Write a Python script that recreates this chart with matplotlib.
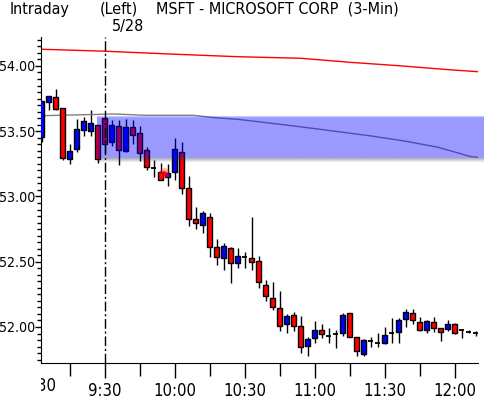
import matplotlib
matplotlib.use('Agg')
import matplotlib.pyplot as plt
import numpy as np
from matplotlib.transforms import Bbox, TransformedBbox, blended_transform_factory
from matplotlib import font_manager
from matplotlib.font_manager import FontProperties

# bar index: 0 = 9:30 on 5/28, 3-minute bars (negatives = previous day)
bar_idx = list(range(-9, 54))
opens = [53.456, 53.722, 53.76, 53.676, 53.287, 53.364, 53.510, 53.50, 53.548,
         53.60, 53.42, 53.543, 53.35, 53.53, 53.484, 53.356, 53.216, 53.19, 53.152,
         53.19, 53.343, 53.063, 52.825, 52.779, 52.841, 52.611, 52.526, 52.605, 52.488,
         52.54, 52.527, 52.506, 52.32, 52.22, 52.143, 52.021, 52.092, 52.008, 51.854,
         51.913, 51.977, 51.933, 51.946, 51.952, 52.105, 51.921, 51.793, 51.895, 51.88,
         51.88, 51.952, 51.964, 52.059, 52.105, 52.036, 51.977, 52.041, 51.99, 51.982,
         52.023, 51.977, 51.964, 51.952]
highs = [53.732, 53.770, 53.82, 53.68, 53.40, 53.59, 53.609, 53.665, 53.55,
         53.605, 53.585, 53.585, 53.59, 53.586, 53.54, 53.38, 53.28, 53.26, 53.25,
         53.45, 53.415, 53.16, 52.92, 52.885, 52.876, 52.674, 52.646, 52.61, 52.603,
         52.577, 52.84, 52.544, 52.36, 52.347, 52.276, 52.097, 52.117, 52.084, 51.921,
         52.048, 52.023, 51.99, 51.977, 52.11, 52.11, 51.925, 51.905, 51.926, 51.957,
         52.002, 52.067, 52.067, 52.136, 52.136, 52.079, 52.05, 52.079, 51.99, 52.05,
         52.028, 51.982, 51.977, 51.972]
lows = [53.42, 53.663, 53.663, 53.28, 53.25, 53.343, 53.464, 53.46, 53.26,
        53.33, 53.387, 53.245, 53.343, 53.40, 53.27, 53.205, 53.15, 53.125, 53.08,
        53.125, 53.02, 52.77, 52.75, 52.72, 52.54, 52.475, 52.437, 52.335, 52.45,
        52.45, 52.435, 52.30, 52.20, 52.13, 51.972, 51.952, 51.972, 51.80, 51.778,
        51.88, 51.918, 51.875, 51.837, 51.93, 51.92, 51.778, 51.778, 51.849, 51.844,
        51.87, 51.875, 51.875, 52.0, 52.02, 51.969, 51.952, 51.96, 51.895, 51.97,
        51.944, 51.913, 51.952, 51.931]
closes = [53.732, 53.770, 53.67, 53.293, 53.345, 53.515, 53.582, 53.565, 53.29,
          53.40, 53.545, 53.356, 53.535, 53.471, 53.33, 53.224, 53.216, 53.13, 53.182,
          53.36, 53.067, 52.825, 52.795, 52.871, 52.615, 52.534, 52.621, 52.494, 52.544,
          52.54, 52.495, 52.347, 52.24, 52.151, 52.01, 52.084, 52.01, 51.844, 51.905,
          51.977, 51.944, 51.933, 51.946, 52.092, 51.926, 51.816, 51.90, 51.895, 51.88,
          51.939, 51.952, 52.054, 52.113, 52.054, 51.977, 52.048, 51.99, 51.96, 52.023,
          51.955, 51.977, 51.964, 51.952]

# long average (red) and short average (grey)
red_idx = [-9, 0, 10, 19, 28, 35, 42, 49, 53.3]
red_vals = [54.128, 54.113, 54.090, 54.071, 54.059, 54.028, 54.002, 53.972, 53.956]
grey_idx = [-9.1, 1.4, 5.7, 12.6, 15.7, 19, 23.8, 28.5, 33.3, 38, 42.8, 47.6, 52.3, 53.3]
grey_vals = [53.619, 53.632, 53.622, 53.622, 53.604, 53.591, 53.561, 53.530, 53.497,
             53.464, 53.425, 53.377, 53.305, 53.300]

# shaded range band
band_start = -1.1
band_top = 53.609
band_bottom = 53.295

tick_pos = [0, 10, 20, 30, 40, 50]
tick_labels = ['9:30', '10:00', '10:30', '11:00', '11:30', '12:00']

# look for a narrow font; otherwise a smaller regular one
narrow = None
for f in font_manager.fontManager.ttflist:
    if f.style != 'normal' or f.weight not in (400, 'normal', 'regular'):
        continue
    if ('Narrow' in f.name or 'Condensed' in f.name or
            f.stretch in ('condensed', 'semi-condensed', 'extra-condensed')):
        if 'Mono' in f.name or 'Serif' in f.name:
            continue
        narrow = f
        break
if narrow is not None:
    fp_x = FontProperties(fname=narrow.fname, size=12)
    fp_y = FontProperties(fname=narrow.fname, size=10.2)
    fp_t = FontProperties(fname=narrow.fname, size=11.5)
else:
    fp_x = FontProperties(family='Liberation Sans', size=10.5)
    fp_y = FontProperties(family='Liberation Sans', size=9)
    fp_t = FontProperties(family='Liberation Sans', size=10)

W, H = 484, 399
fig = plt.figure(figsize=(W / 100, H / 100), dpi=100)
ax = fig.add_axes([41 / W, (H - 363) / H, (478 - 41) / W, (363 - 37) / H])

xmin, xmax = -9.14, 53.3
ymin, ymax = 51.724, 54.222

# candles
x = np.array(bar_idx)
o = np.array(opens); c = np.array(closes)
h = np.array(highs); l = np.array(lows)
ax.vlines(x, l, h, color='black', lw=1, zorder=2)
doji = np.isclose(o, c)
up = (c > o) & ~doji
dn = (c < o) & ~doji
bw = 0.72
ax.bar(x[up], (c - o)[up], bottom=o[up], width=bw, color='#0000ff',
       edgecolor='black', lw=1, zorder=3)
ax.bar(x[dn], (o - c)[dn], bottom=c[dn], width=bw, color='#ff0000',
       edgecolor='black', lw=1, zorder=3)
ax.hlines(o[doji], x[doji] - bw / 2, x[doji] + bw / 2, color='black', lw=1.3, zorder=3)

# small red marker glint
ax.scatter([8.4], [53.178], s=60, color='#ff2020', alpha=0.35, lw=0, zorder=4)
ax.scatter([8.4], [53.178], s=14, color='#ff0000', alpha=0.8, lw=0, zorder=4)

ax.plot(red_idx, red_vals, color='#ff0000', lw=1, zorder=2)
ax.plot(grey_idx, grey_vals, color='#808080', lw=1, zorder=2)

# band with soft edges and shadow, drawn over the candles
n = 60
shadow = 0.04
img = np.zeros((n, 1, 4))
yy = np.linspace(band_top, band_bottom - shadow, n)
for i, v in enumerate(yy):
    if v > band_top - 0.02:
        a = 0.4 * (band_top - v) / 0.02 + 0.2
        img[i, 0] = [0, 0, 1, min(a, 0.4)]
    elif v >= band_bottom:
        img[i, 0] = [0, 0, 1, 0.4]
    else:
        t = (band_bottom - v) / shadow
        img[i, 0] = [0.15, 0.15, 0.35, 0.45 * (1 - t)]
band_right = (484 - 105) / 7
ax.imshow(img, extent=[band_start, band_right, band_bottom - shadow, band_top],
          aspect='auto', interpolation='bilinear', zorder=5, clip_on=False)

ax.axvline(0, color='black', lw=1, ls=(0, (7, 2, 1.5, 2)), zorder=6)

ax.set_xlim(xmin, xmax)
ax.set_ylim(ymin, ymax)

for s in ['top', 'right']:
    ax.spines[s].set_visible(False)

ax.set_yticks(np.arange(52.0, 54.01, 0.5))
ax.set_yticklabels([f'{v:.2f}' for v in np.arange(52.0, 54.01, 0.5)])
ax.set_yticks(np.arange(51.75, 54.23, 0.05), minor=True)
ax.set_xticks(tick_pos)
ax.set_xticklabels(tick_labels)
ax.set_xticks([-5, 5, 15, 25, 35, 45], minor=True)
ax.tick_params(axis='y', which='major', length=4, width=1, pad=0.3)
ax.tick_params(axis='y', which='minor', length=3, width=1)
ax.tick_params(axis='x', which='major', length=11, width=1, pad=3)
ax.tick_params(axis='x', which='minor', length=9, width=1)
for lab in ax.get_xticklabels():
    lab.set_fontproperties(fp_x)
for lab in ax.get_yticklabels():
    lab.set_fontproperties(fp_y)

# previous day's label, cut at the axis edge
tr = blended_transform_factory(ax.transData, ax.transAxes)
t = ax.text(-10, -0.043, '15:30', transform=tr, ha='center', va='top',
            fontproperties=fp_x, clip_on=True)
t.set_clip_box(TransformedBbox(Bbox([[41 / W, 0], [1, 1]]), fig.transFigure))

fig.text(10 / W, 1 - 2 / H, 'Intraday', ha='left', va='top', fontproperties=fp_t)
fig.text(100 / W, 1 - 2 / H, '(Left)', ha='left', va='top', fontproperties=fp_t)
fig.text(156 / W, 1 - 2 / H, 'MSFT - MICROSOFT CORP  (3-Min)', ha='left', va='top',
         fontproperties=fp_t)
fig.text(112 / W, 1 - 19 / H, '5/28', ha='left', va='top', fontproperties=fp_t)

fig.savefig('out.png', dpi=100)
